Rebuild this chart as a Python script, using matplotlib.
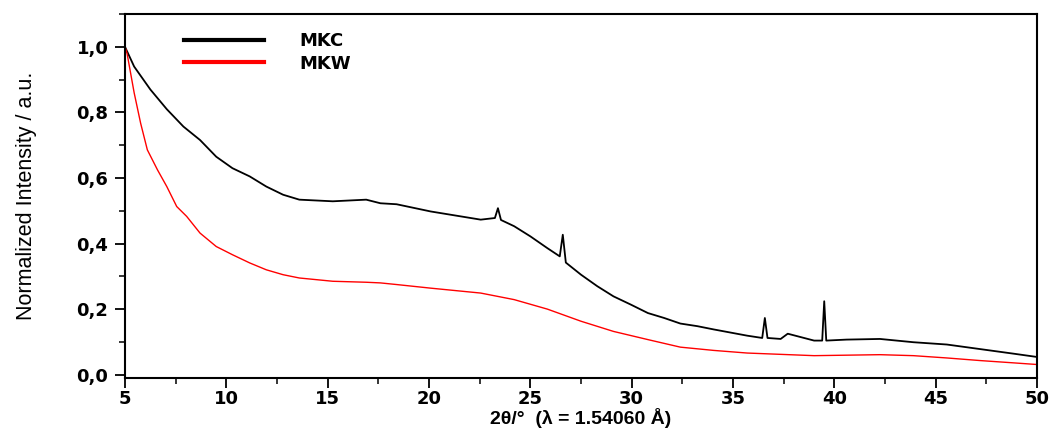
import numpy as np
import matplotlib as mpl
import matplotlib.pyplot as plt
from matplotlib.lines import Line2D
from matplotlib.ticker import MultipleLocator
mpl.use('agg')

##--##--  data  --##--##
two_theta_mkc = [5.0, 5.45, 6.25, 7.06, 7.88, 8.7, 9.5, 10.3, 11.15, 11.97, 12.8, 13.6,
                 15.25, 16.9, 17.6, 18.4, 20.08, 22.55, 23.25, 23.4, 23.55, 24.2, 25.0,
                 25.84, 26.45, 26.6, 26.75, 27.5, 28.3, 29.1, 29.95, 30.8, 31.6, 32.4,
                 33.24, 34.05, 35.7, 36.44, 36.57, 36.7, 37.35, 37.7, 39.0, 39.4, 39.5,
                 39.6, 40.6, 42.25, 43.9, 45.55, 47.2, 48.85, 50.0]
mkc = [1.0, 0.94, 0.87, 0.81, 0.757, 0.716, 0.665, 0.63, 0.605, 0.574, 0.549, 0.534,
       0.529, 0.534, 0.523, 0.52, 0.498, 0.473, 0.478, 0.508, 0.472, 0.453, 0.422,
       0.386, 0.361, 0.427, 0.342, 0.305, 0.27, 0.239, 0.214, 0.188, 0.173, 0.156,
       0.148, 0.138, 0.119, 0.112, 0.173, 0.112, 0.109, 0.125, 0.104, 0.104, 0.224,
       0.104, 0.107, 0.109, 0.099, 0.092, 0.078, 0.064, 0.054]

two_theta_mkw = [5.0, 5.1, 5.45, 5.77, 6.1, 6.6, 7.06, 7.55, 8.04, 8.7, 9.5, 10.3, 11.15,
                 11.97, 12.8, 13.6, 15.25, 16.9, 17.6, 18.4, 20.08, 22.55, 24.2, 25.84,
                 27.5, 29.1, 30.8, 32.4, 34.05, 35.7, 39.0, 42.25, 43.9, 45.55, 47.2,
                 48.85, 50.0]
mkw = [1.0, 0.98, 0.86, 0.767, 0.686, 0.625, 0.574, 0.513, 0.483, 0.432, 0.391, 0.366,
       0.341, 0.32, 0.305, 0.295, 0.285, 0.282, 0.28, 0.275, 0.264, 0.249, 0.229, 0.2,
       0.163, 0.132, 0.107, 0.084, 0.074, 0.066, 0.058, 0.061, 0.058, 0.051, 0.043,
       0.036, 0.031]

series_names = ['MKC', 'MKW']
series_colors = ['black', '#ff0000']
ytick_labels = ['0,0', '0,2', '0,4', '0,6', '0,8', '1,0']


##--##--##--  create figure  --##--##--##
fig = plt.figure(dpi=100, figsize=(10.57, 4.29))
ax = fig.add_axes([0.1183, 0.119, 0.8628, 0.848])

ax.plot(two_theta_mkc, mkc, color=series_colors[0], linewidth=1.3)
ax.plot(two_theta_mkw, mkw, color=series_colors[1], linewidth=1.0)

ax.set_xlim(5.0, 50.0)
ax.set_ylim(-0.01, 1.10)

ax.xaxis.set_major_locator(MultipleLocator(5))
ax.xaxis.set_minor_locator(MultipleLocator(2.5))
ax.set_yticks(np.linspace(0.0, 1.0, 6))
ax.set_yticklabels(ytick_labels)
ax.yaxis.set_minor_locator(MultipleLocator(0.1))

for s in ax.spines.values():
    s.set_linewidth(1.5)
ax.tick_params(which='major', direction='out', length=7, width=1.3, labelsize=13, pad=5)
ax.tick_params(which='minor', direction='out', length=4, width=1.1)
ax.tick_params(axis='x', which='major', pad=2)
for lab in ax.get_xticklabels() + ax.get_yticklabels():
    lab.set_fontweight('bold')

ax.set_xlabel('2θ/°  (λ = 1.54060 Å)', family=['Liberation Sans', 'DejaVu Sans'],
              fontsize=14, fontweight='bold', labelpad=0)
ax.set_ylabel('Normalized Intensity / a.u.',
              family=['Liberation Sans', 'DejaVu Sans'], fontsize=15.5, labelpad=28)

handles = [Line2D([], [], color=c, linewidth=3) for c in series_colors]
leg = ax.legend(handles, series_names, loc='upper left', bbox_to_anchor=(0.047, 0.995),
                frameon=False, handlelength=4.4, handletextpad=2.0, labelspacing=0.25,
                prop={'weight': 'bold', 'size': 13})

fig.savefig('out.png', dpi=100)
